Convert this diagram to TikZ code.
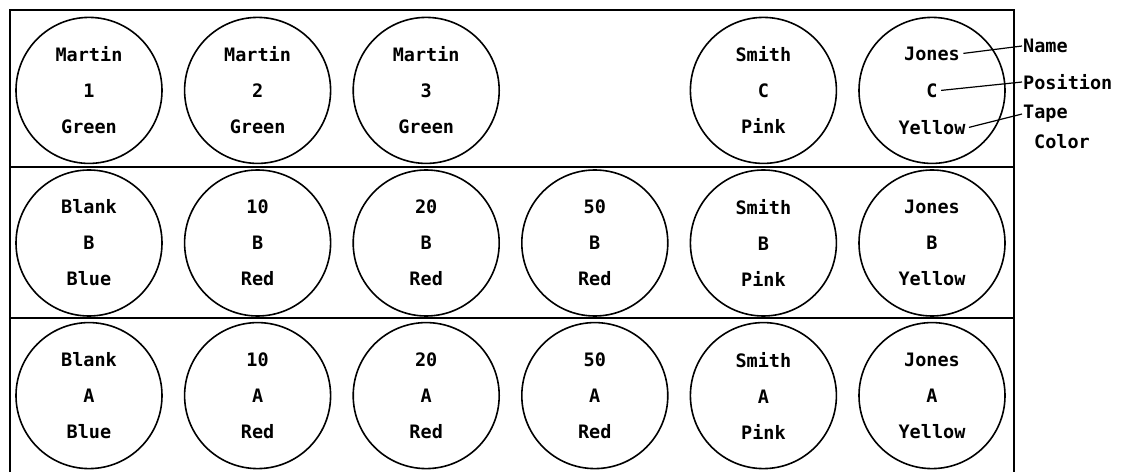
\documentclass[tikz,border=0pt]{standalone}
\usepackage{fontspec}
\setmonofont{DejaVu Sans Mono}
\usetikzlibrary{positioning,calc}

\begin{document}
\begin{tikzpicture}[x=1pt, y=1pt,
  font=\ttfamily\bfseries\fontsize{18.5}{36}\selectfont,
  plate/.style={draw, circle, line width=1.6pt, minimum size=146pt,
    inner sep=0pt, align=center},
  frameline/.style={line width=1.5pt},
  tag/.style={inner sep=1pt, anchor=west},
  leader/.style={line width=1.2pt}
]
\useasboundingbox (0,0) rectangle (1125,472);

% tray outline, open at the bottom
\draw[frameline] (10,0) -- (10,462) -- (1014,462) -- (1014,0);
\draw[frameline] (10,305) -- (1014,305);
\draw[frameline] (10,154) -- (1014,154);

% position B
\node[plate] (BB) at (89,229) {Blank\\B\\Blue};
\node[plate, right=21pt of BB] (B10) {10\\B\\Red};
\node[plate, right=21pt of B10] (B20) {20\\B\\Red};
\node[plate, right=21pt of B20] (B50) {50\\B\\Red};
\node[plate, right=21pt of B50] (BS) {Smith\\B\\Pink};
\node[plate, right=21pt of BS] (BJ) {Jones\\B\\Yellow};

% position A
\node[plate, below=5pt of BB] (AB) {Blank\\A\\Blue};
\node[plate, below=5pt of B10] (A10) {10\\A\\Red};
\node[plate, below=5pt of B20] (A20) {20\\A\\Red};
\node[plate, below=5pt of B50] (A50) {50\\A\\Red};
\node[plate, below=5pt of BS] (AS) {Smith\\A\\Pink};
\node[plate, below=5pt of BJ] (AJ) {Jones\\A\\Yellow};

% position C
\node[plate, above=5pt of BB] (M1) {Martin\\1\\Green};
\node[plate, above=5pt of B10] (M2) {Martin\\2\\Green};
\node[plate, above=5pt of B20] (M3) {Martin\\3\\Green};
\node[plate, above=5pt of BS] (CS) {Smith\\C\\Pink};
\node[plate, above=5pt of BJ] (CJ) {};
\node (CJname) at ($(CJ.center)+(0,37)$) {Jones};
\node (CJpos) at (CJ.center) {C};
\node (CJtape) at ($(CJ.center)+(0,-37)$) {Yellow};

% key
\node[tag] (name) at (1022,426) {Name};
\node[tag] (pos) at (1022,390) {Position};
\node[tag] (tape) at (1022,358) {Tape};
\node[tag, below right=9pt and -36pt of tape] (tapecol) {Color};

\draw[leader] (CJname.east) -- (name.west);
\draw[leader] (CJpos.east) -- (pos.west);
\draw[leader] (CJtape.east) -- (tape.west);
\end{tikzpicture}
\end{document}
